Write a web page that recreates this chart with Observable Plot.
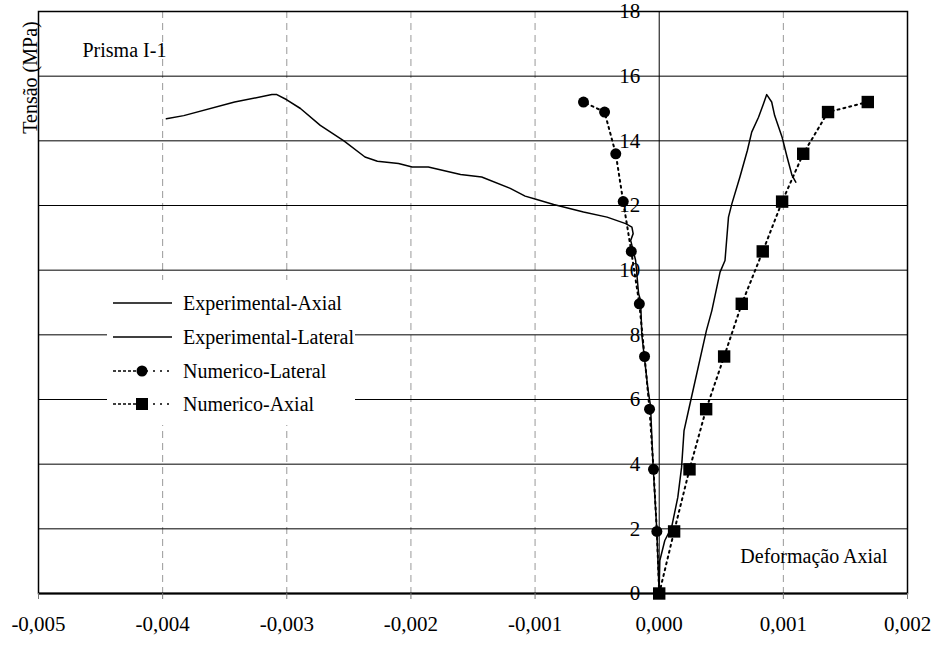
<!DOCTYPE html>
<html>
<head>
<meta charset="utf-8">
<script src="https://cdn.jsdelivr.net/npm/d3@7"></script>
<script src="https://cdn.jsdelivr.net/npm/@observablehq/plot@0.6"></script>
<style>
  body { margin: 0; background: #fff; }
  #wrap { position: relative; width: 936px; height: 645px; font-family: "Liberation Serif", "Times New Roman", serif; }
  #wrap svg text { font-family: "Liberation Serif", "Times New Roman", serif; }
  #legend { position: absolute; left: 107px; top: 280px; width: 248px; height: 145px; background: #fff; }
  .row { position: absolute; left: 0; height: 24px; display: flex; align-items: center; font-size: 20px; color: #000; white-space: nowrap; font-family: "Liberation Serif", "Times New Roman", serif; }
  .row svg { margin-left: 6px; margin-right: 10px; }
</style>
</head>
<body>
<div id="wrap"><div id="legend"></div></div>
<script>
// Experimental lateral strain vs stress
const expLatStrain = [0, -0.00002, -0.00005, -0.00007, -0.00009, -0.00014, -0.00015, -0.000166, -0.00019, -0.00023, -0.00021, -0.00022, -0.00027, -0.00042, -0.00061, -0.00085, -0.001, -0.00108, -0.0012, -0.00143, -0.0016, -0.00186, -0.00199, -0.0021, -0.00227, -0.00237, -0.00254, -0.00273, -0.00289, -0.003, -0.00308, -0.00312, -0.00342, -0.00383, -0.00397];
const expLatStress = [0, 2, 4, 5.8, 6.3, 8, 9.06, 9.27, 10.3, 10.92, 11.13, 11.33, 11.44, 11.64, 11.8, 12.03, 12.2, 12.29, 12.53, 12.88, 12.96, 13.19, 13.19, 13.3, 13.37, 13.5, 14.0, 14.48, 15.0, 15.27, 15.43, 15.43, 15.2, 14.78, 14.68];
// Experimental axial strain vs stress
const expAxStrain = [0, 0, 0.000005, 0.000045, 0.0001, 0.00015, 0.00018, 0.0002, 0.000236, 0.00038, 0.000424, 0.00049, 0.00053, 0.000558, 0.000585, 0.00065, 0.00071, 0.000745, 0.0008, 0.00084, 0.000866, 0.000906, 0.00093, 0.00099, 0.00103, 0.00107, 0.0011];
const expAxStress = [0, 0.2, 1.02, 1.64, 2.05, 2.98, 3.9, 5.04, 5.66, 8.13, 8.75, 9.94, 10.3, 11.64, 12.05, 12.88, 13.7, 14.27, 14.73, 15.15, 15.43, 15.2, 14.78, 14.11, 13.5, 12.93, 12.72];
// Numerical results
const numStress = [0, 1.92, 3.84, 5.7, 7.33, 8.96, 10.58, 12.12, 13.6, 14.89, 15.2];
const numLatStrain = [0, -0.000019, -0.000046, -0.000078, -0.000118, -0.00016, -0.000225, -0.00029, -0.00035, -0.00044, -0.00061];
const numAxStrain = [0, 0.00012, 0.000244, 0.000378, 0.000523, 0.000665, 0.000834, 0.00099, 0.00116, 0.00136, 0.00168];

const xTicks = [-0.005, -0.004, -0.003, -0.002, -0.001, 0, 0.001, 0.002];
const xGrid = [-0.004, -0.003, -0.002, -0.001, 0.001];
const yTicks = [0, 2, 4, 6, 8, 10, 12, 14, 16, 18];

const legendItems = ["Experimental-Axial", "Experimental-Lateral", "Numerico-Lateral", "Numerico-Axial"];

const zip = (xs, ys) => xs.map((x, i) => ({x, y: ys[i]}));
const expLat = zip(expLatStrain, expLatStress);
const expAx = zip(expAxStrain, expAxStress);
const numLat = zip(numLatStrain, numStress);
const numAx = zip(numAxStrain, numStress);

const fmt = v => v.toFixed(3).replace(".", ",");
const font = '"Liberation Serif", "Times New Roman", serif';

const chart = Plot.plot({
  width: 936,
  height: 645,
  marginLeft: 38,
  marginRight: 29,
  marginTop: 11,
  marginBottom: 52,
  style: {fontFamily: font, fontSize: "20px", background: "#fff", color: "#000"},
  x: {domain: [-0.005, 0.002], axis: null},
  y: {domain: [0, 18], axis: null},
  marks: [
    Plot.ruleX(xGrid, {stroke: "#999", strokeWidth: 1, strokeDasharray: "7,5"}),
    Plot.ruleY(yTicks.slice(1, -1), {stroke: "#000", strokeWidth: 1}),
    Plot.ruleX([0], {stroke: "#000", strokeWidth: 1}),
    Plot.frame({stroke: "#000", strokeWidth: 1.5}),
    Plot.ruleY([0], {stroke: "#000", strokeWidth: 2}),
    Plot.axisX(xTicks, {tickSize: 6, tickPadding: 17, tickFormat: fmt, stroke: "#777", fontSize: 21, fontFamily: font, label: null}),
    Plot.text(yTicks, {x: () => 0, y: d => d, text: d => String(d), textAnchor: "end", dx: -19, fontSize: 21, fontFamily: font}),
    Plot.line(expLat, {x: "x", y: "y", stroke: "#000", strokeWidth: 1.5}),
    Plot.line(expAx, {x: "x", y: "y", stroke: "#000", strokeWidth: 1.5}),
    Plot.line(numLat, {x: "x", y: "y", stroke: "#000", strokeWidth: 2, strokeDasharray: "2,4"}),
    Plot.line(numAx, {x: "x", y: "y", stroke: "#000", strokeWidth: 2, strokeDasharray: "2,4"}),
    Plot.dot(numLat, {x: "x", y: "y", r: 5.5, fill: "#000", symbol: "circle"}),
    Plot.dot(numAx, {x: "x", y: "y", r: 7, fill: "#000", symbol: "square"}),
    Plot.text(["Prisma I-1"], {frameAnchor: "top-left", dx: 44, dy: 31, textAnchor: "start", fontSize: 20, fontFamily: font}),
    Plot.text(["Deformação Axial"], {frameAnchor: "bottom-right", dx: -20, dy: -31, textAnchor: "end", fontSize: 20, fontFamily: font}),
    Plot.text(["Tensão (MPa)"], {frameAnchor: "top-left", rotate: -90, dx: -16, dy: 66, textAnchor: "middle", fontSize: 20, fontFamily: font})
  ]
});
const wrap = document.getElementById("wrap");
wrap.insertBefore(chart, wrap.firstChild);
chart.style.position = "absolute";
chart.style.left = "0";
chart.style.top = "0";
chart.style.overflow = "visible";

const legend = document.getElementById("legend");
const rowTops = [11, 45, 79, 112];
legendItems.forEach((name, i) => {
  const row = document.createElement("div");
  row.className = "row";
  row.style.top = rowTops[i] + "px";
  let sym = "";
  if (i < 2) {
    sym = `<line x1="0" y1="10" x2="59" y2="10" stroke="#000" stroke-width="1.5"/>`;
  } else {
    const marker = i === 2
      ? `<circle cx="29" cy="10" r="5.5" fill="#000"/>`
      : `<rect x="23" y="4" width="12" height="12" fill="#000"/>`;
    sym = `<line x1="0" y1="10" x2="27" y2="10" stroke="#000" stroke-width="1.5" stroke-dasharray="3,2"/>` +
          `<line x1="33" y1="10" x2="59" y2="10" stroke="#000" stroke-width="1.5" stroke-dasharray="2,5"/>` + marker;
  }
  row.innerHTML = `<svg width="60" height="20">${sym}</svg><span>${name}</span>`;
  legend.appendChild(row);
});
</script>
</body>
</html>
